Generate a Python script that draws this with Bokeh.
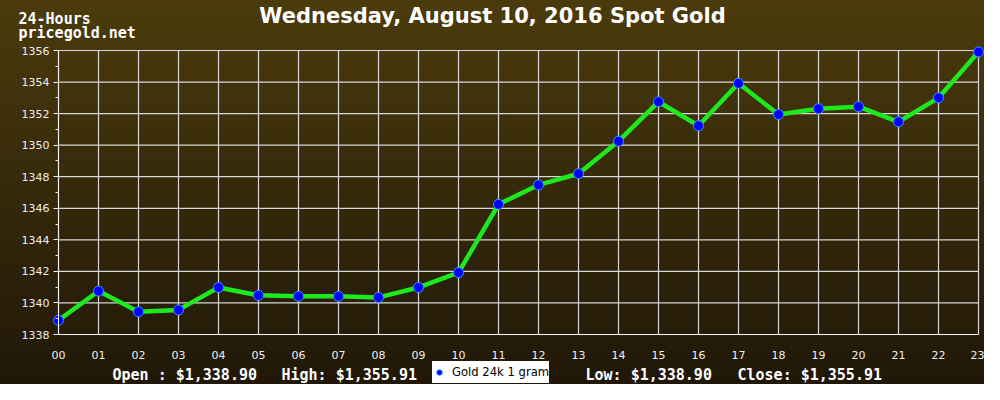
from bokeh.plotting import figure
from bokeh.models import (Range1d, FixedTicker, SingleIntervalTicker, Label,
                          Legend, LegendItem, ColumnDataSource)
from bokeh.embed import file_html
from bokeh.resources import INLINE

# ---- data ----
hours = list(range(24))
hour_labels = ["%02d" % h for h in hours]
prices = [1338.90, 1340.75, 1339.44, 1339.56, 1340.98, 1340.48, 1340.42, 1340.42,
          1340.35, 1340.98, 1341.92, 1346.25, 1347.48, 1348.19, 1350.25, 1352.75,
          1351.23, 1353.92, 1351.94, 1352.31, 1352.44, 1351.48, 1353.00, 1355.91]
y_min, y_max, y_step = 1338, 1356, 2
y_ticks = list(range(y_min, y_max + 1, y_step))
title_text = "Wednesday, August 10, 2016 Spot Gold"
corner_lines = ["24-Hours", "pricegold.net"]
stat_texts = ["Open : $1,338.90", "High: $1,355.91", "Low: $1,338.90", "Close: $1,355.91"]
series_name = "Gold 24k 1 gram"

# ---- layout (pixels) ----
W, H = 984, 384
FL, FR, FT, FB = 58, 978, 50, 334          # plotting area inside the canvas
kx = (FR - FL) / (hours[-1] - hours[0])
ky = (FB - FT) / (y_max - y_min)
x_range = Range1d(hours[0] - FL / kx, hours[-1] + (W - FR) / kx)
y_range = Range1d(y_min - (H - FB) / ky, y_max + FT / ky)

src = ColumnDataSource(dict(hour=hours, price=prices))

p = figure(width=W, height=H, output_backend="svg", toolbar_location=None,
           x_range=x_range, y_range=y_range, min_border=0,
           styles={"background": "linear-gradient(to bottom, #4b3b0c, #201708)"})
p.border_fill_color = None
p.background_fill_color = None
p.outline_line_color = None
p.grid.visible = False

# grid lines (from the tick lists)
p.segment(x0=hours, x1=hours, y0=[y_min] * len(hours), y1=[y_max] * len(hours),
          line_color="#d8d8d8", line_width=1.2)
p.segment(x0=[hours[0]] * len(y_ticks), x1=[hours[-1]] * len(y_ticks), y0=y_ticks, y1=y_ticks,
          line_color="#d8d8d8", line_width=1.2)

# axes
p.xaxis.fixed_location = y_min
p.yaxis.fixed_location = hours[0]
p.xaxis.bounds = (hours[0], hours[-1])
p.yaxis.bounds = (y_min, y_max)
p.xaxis.ticker = FixedTicker(ticks=hours)
p.xaxis.major_label_overrides = {h: lab for h, lab in zip(hours, hour_labels)}
p.xaxis.major_label_standoff = 10
p.yaxis.ticker = SingleIntervalTicker(interval=y_step, num_minor_ticks=2)
p.yaxis.major_tick_out = 5
p.yaxis.major_tick_in = 0
p.yaxis.minor_tick_out = 3
p.yaxis.minor_tick_in = 0
p.yaxis.major_label_standoff = 4
for ax in (p.xaxis, p.yaxis):
    ax.axis_line_color = "#f4f4f4"
    ax.major_label_text_color = "#eeeeee"
    ax.major_label_text_font = "DejaVu Sans"
    ax.major_label_text_font_size = "11px"
p.yaxis.major_tick_line_color = "#f0f0f0"
p.yaxis.minor_tick_line_color = "#f0f0f0"
p.xaxis.major_tick_line_color = None
p.xaxis.minor_tick_line_color = None

# series
p.line("hour", "price", source=src, line_color="#1ee81e", line_width=4.5)
pts = p.scatter("hour", "price", source=src, size=10, fill_color="#0000ff",
                line_color="#3399ff", line_width=1)

legend = Legend(items=[LegendItem(label=series_name, renderers=[pts])],
                location=(432, 1), orientation="horizontal",
                background_fill_color="white", background_fill_alpha=1,
                border_line_color=None, padding=6, margin=0, spacing=0,
                glyph_width=14, glyph_height=22, label_height=22,
                label_standoff=6,
                label_text_font="DejaVu Sans", label_text_font_size="11.6px",
                label_text_color="black")
p.add_layout(legend, "center")

# texts (alphabetic baselines)
p.add_layout(Label(x=W / 2, y=H - 15, x_units="screen", y_units="screen", text=title_text,
                   text_align="center", text_baseline="alphabetic", text_font="DejaVu Sans",
                   text_font_style="bold", text_font_size="21px", text_color="white"))
for i, t in enumerate(corner_lines):
    p.add_layout(Label(x=18, y=H - 18.5 - 13.5 * i, x_units="screen", y_units="screen", text=t,
                       text_baseline="alphabetic", text_font="DejaVu Sans Mono",
                       text_font_style="bold", text_font_size="15px", text_color="white"))
stat_x = [112, 281, 585, 737]
for sx, t in zip(stat_x, stat_texts):
    p.add_layout(Label(x=sx, y=10, x_units="screen", y_units="screen", text=t,
                       text_baseline="alphabetic", text_font="DejaVu Sans Mono",
                       text_font_style="bold", text_font_size="15px", text_color="white"))

open("out.html", "w").write(file_html(p, INLINE))
